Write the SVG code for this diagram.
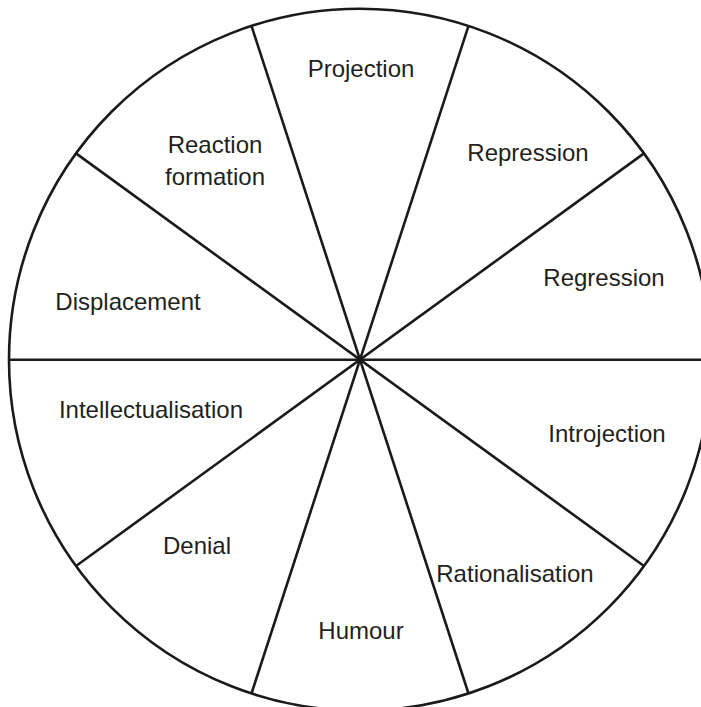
<svg xmlns="http://www.w3.org/2000/svg" width="701" height="707" viewBox="0 0 701 707">
  <style>
    .rim { fill: none; stroke: #1a1a1a; stroke-width: 2.6; }
    .spoke { stroke: #1a1a1a; stroke-width: 2.6; stroke-linecap: butt; }
    .label { font-family: "Liberation Sans", Arial, sans-serif; font-size: 24px; fill: #231f20; text-anchor: middle; }
  </style>
  <rect x="0" y="0" width="701" height="707" fill="#ffffff"/>

  <!-- outer wheel -->
  <g id="wheel">
    <circle class="rim" cx="360" cy="359.7" r="351"/>
  </g>

  <!-- ten spokes, 36 degrees apart -->
  <g id="connectors">
    <line class="spoke" x1="9" y1="359.7" x2="711" y2="359.7"/>
    <line class="spoke" x1="76" y1="153.4" x2="644" y2="566"/>
    <line class="spoke" x1="251.5" y1="25.9" x2="468.5" y2="693.5"/>
    <line class="spoke" x1="468.5" y1="25.9" x2="251.5" y2="693.5"/>
    <line class="spoke" x1="644" y1="153.4" x2="76" y2="566"/>
  </g>

  <g id="projection"><text class="label" x="361" y="77">Projection</text></g>
  <g id="repression"><text class="label" x="528" y="161">Repression</text></g>
  <g id="reaction-formation">
    <text class="label" x="215" y="153">Reaction</text>
    <text class="label" x="215" y="185">formation</text>
  </g>
  <g id="regression"><text class="label" x="604" y="286">Regression</text></g>
  <g id="displacement"><text class="label" x="128" y="310">Displacement</text></g>
  <g id="intellectualisation"><text class="label" x="151" y="418">Intellectualisation</text></g>
  <g id="introjection"><text class="label" x="607" y="442">Introjection</text></g>
  <g id="denial"><text class="label" x="197" y="554">Denial</text></g>
  <g id="rationalisation"><text class="label" x="515" y="582">Rationalisation</text></g>
  <g id="humour"><text class="label" x="361" y="639">Humour</text></g>
</svg>
